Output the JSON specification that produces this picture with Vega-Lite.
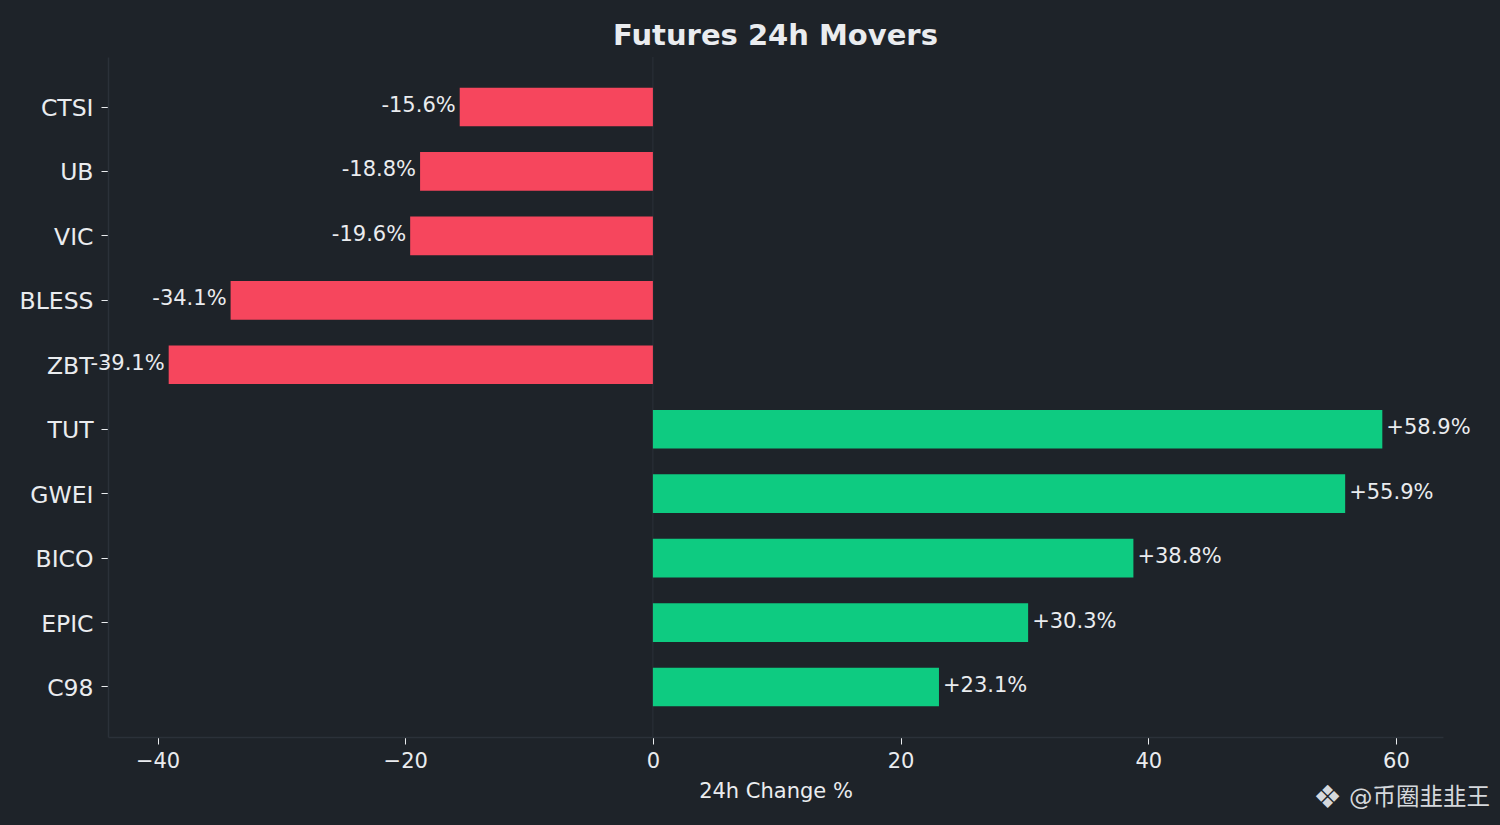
{
  "$schema": "https://vega.github.io/schema/vega-lite/v6.json",
  "width": 1335,
  "height": 680,
  "autosize": {"type": "none"},
  "padding": {"left": 108, "top": 57, "right": 57, "bottom": 88},
  "background": "#1e2329",
  "title": {
    "text": "Futures 24h Movers",
    "fontSize": 29,
    "fontWeight": "bold",
    "font": "DejaVu Sans",
    "color": "#eaecef",
    "anchor": "middle",
    "offset": 6
  },
  "config": {
    "view": {"stroke": null},
    "font": "DejaVu Sans",
    "axis": {
      "labelFont": "DejaVu Sans",
      "titleFont": "DejaVu Sans",
      "labelColor": "#eaecef",
      "titleColor": "#eaecef",
      "labelFontSize": 21,
      "titleFontSize": 21,
      "titleFontWeight": "normal",
      "domainColor": "#2b3139",
      "domainWidth": 1.5,
      "tickColor": "#eaecef",
      "tickSize": 7,
      "tickWidth": 1,
      "grid": false
    }
  },
  "data": {
    "values": [
      {"symbol": "CTSI", "change": -15.6, "label": "-15.6%"},
      {"symbol": "UB", "change": -18.8, "label": "-18.8%"},
      {"symbol": "VIC", "change": -19.6, "label": "-19.6%"},
      {"symbol": "BLESS", "change": -34.1, "label": "-34.1%"},
      {"symbol": "ZBT", "change": -39.1, "label": "-39.1%"},
      {"symbol": "TUT", "change": 58.9, "label": "+58.9%"},
      {"symbol": "GWEI", "change": 55.9, "label": "+55.9%"},
      {"symbol": "BICO", "change": 38.8, "label": "+38.8%"},
      {"symbol": "EPIC", "change": 30.3, "label": "+30.3%"},
      {"symbol": "C98", "change": 23.1, "label": "+23.1%"}
    ]
  },
  "encoding": {
    "y": {
      "field": "symbol",
      "type": "nominal",
      "sort": null,
      "scale": {"paddingInner": 0.4, "paddingOuter": 0.476},
      "axis": {"title": null, "labelPadding": 8, "labelFontSize": 23.5, "labelOffset": 2}
    },
    "x": {
      "field": "change",
      "type": "quantitative",
      "scale": {"domain": [-44.0, 63.8], "nice": false, "zero": false},
      "axis": {
        "title": "24h Change %",
        "values": [-40, -20, 0, 20, 40, 60],
        "labelPadding": 6,
        "titlePadding": 9
      }
    }
  },
  "layer": [
    {
      "mark": {"type": "rule", "color": "#2b3139", "strokeWidth": 1},
      "data": {"values": [{"zero": 0}]},
      "encoding": {
        "x": {"field": "zero", "type": "quantitative"},
        "y": null
      }
    },
    {
      "mark": {"type": "bar"},
      "encoding": {
        "color": {
          "condition": {"test": "datum.change < 0", "value": "#f6465d"},
          "value": "#0ecb81"
        }
      }
    },
    {
      "transform": [{"filter": "datum.change < 0"}],
      "mark": {"type": "text", "align": "right", "baseline": "middle", "dx": -4, "dy": -1, "fontSize": 21, "color": "#eaecef"},
      "encoding": {"text": {"field": "label"}}
    },
    {
      "transform": [{"filter": "datum.change > 0"}],
      "mark": {"type": "text", "align": "left", "baseline": "middle", "dx": 4, "dy": -1, "fontSize": 21, "color": "#eaecef"},
      "encoding": {"text": {"field": "label"}}
    },
    {
      "data": {"values": [{"mark": "@币圈韭韭王", "logo": "❖", "pos": 63.8}]},
      "layer": [
        {
          "mark": {"type": "text", "align": "right", "baseline": "middle", "dx": 47, "dy": 61, "fontSize": 23.5, "color": "#d5d8dc", "font": "DejaVu Sans, Noto Sans CJK SC"},
          "encoding": {"text": {"field": "mark"}}
        },
        {
          "mark": {"type": "text", "align": "right", "baseline": "middle", "dx": -101, "dy": 61, "fontSize": 32, "color": "#d5d8dc", "font": "DejaVu Sans"},
          "encoding": {"text": {"field": "logo"}}
        }
      ],
      "encoding": {
        "x": {"field": "pos", "type": "quantitative"},
        "y": {"value": 680}
      }
    }
  ]
}
